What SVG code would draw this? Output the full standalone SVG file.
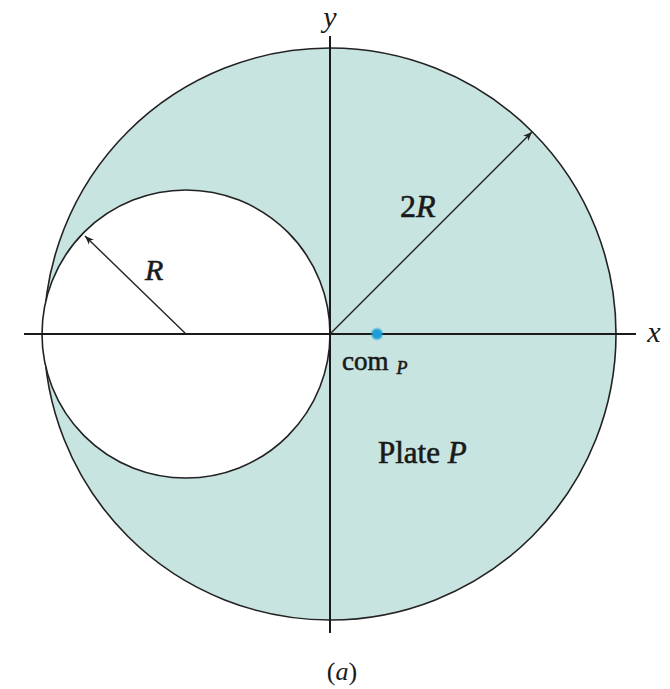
<svg xmlns="http://www.w3.org/2000/svg" width="670" height="689" viewBox="0 0 670 689">
<style>
.ln{stroke:#222;stroke-width:1.4;fill:none}
.ax{stroke:#1a1a1a;stroke-width:2;fill:none}
.t{font-family:"Liberation Serif",serif;fill:#1a1a1a}
.i{font-style:italic}
.m{stroke:#1a1a1a;stroke-width:0.6}
</style>
<defs>
<marker id="ah" viewBox="0 0 10 10" refX="10" refY="5" markerWidth="9" markerHeight="9" markerUnits="userSpaceOnUse" orient="auto">
<path d="M0,1 L10,5 L0,9 L3,5 Z" fill="#222"/>
</marker>
<radialGradient id="glow">
<stop offset="0.55" stop-color="#1d9fd6"/>
<stop offset="1" stop-color="#1d9fd6" stop-opacity="0"/>
</radialGradient>
</defs>
<rect width="670" height="689" fill="#fff"/>
<g id="plate">
<circle cx="330" cy="334" r="286" fill="#c8e4e0" stroke="#222" stroke-width="1.6"/>
</g>
<g id="hole">
<circle cx="186" cy="334" r="144" fill="#fff" stroke="#222" stroke-width="1.6"/>
</g>
<g id="connectors">
<line class="ax" x1="24" y1="334" x2="636" y2="334"/>
<line class="ax" x1="330" y1="36" x2="330" y2="633"/>
<line class="ln" x1="330" y1="334" x2="532" y2="132" marker-end="url(#ah)"/>
<line class="ln" x1="186" y1="334" x2="85" y2="236" marker-end="url(#ah)"/>
</g>
<g id="com">
<circle cx="377" cy="334" r="7" fill="url(#glow)"/>
<circle cx="377" cy="334" r="4" fill="#1d9fd6"/>
</g>
<g id="labels">
<text class="t i" x="330" y="27" font-size="30" text-anchor="middle">y</text>
<text class="t i" x="654" y="342" font-size="30" text-anchor="middle">x</text>
<text class="t m" x="400" y="217" font-size="32">2<tspan class="i">R</tspan></text>
<text class="t i m" x="145" y="280" font-size="30">R</text>
<text class="t m" x="342" y="370" font-size="27">com<tspan class="i" font-size="18" dx="8" dy="4">P</tspan></text>
<text class="t m" x="378" y="463" font-size="31">Plate <tspan class="i">P</tspan></text>
<text class="t" x="342" y="680" font-size="26" text-anchor="middle">(<tspan class="i">a</tspan>)</text>
</g>
</svg>
